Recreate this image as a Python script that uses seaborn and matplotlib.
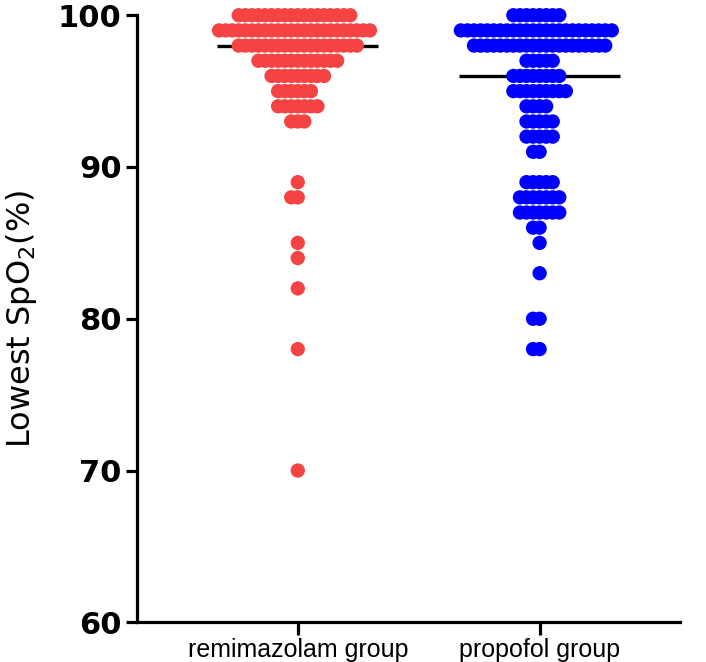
import numpy as np
import pandas as pd
import matplotlib
matplotlib.use("Agg")
import matplotlib.pyplot as plt
import seaborn as sns

# counts of patients at each lowest SpO2 value
groups = ["remimazolam group", "propofol group"]
remi_values = [100, 99, 98, 97, 96, 95, 94, 93, 89, 88, 85, 84, 82, 78, 70]
remi_counts = [18, 24, 19, 13, 9, 6, 7, 3, 1, 2, 1, 1, 1, 1, 1]
prop_values = [100, 99, 98, 97, 96, 95, 94, 93, 92, 91, 89, 88, 87, 86, 85, 83, 80, 78]
prop_counts = [8, 24, 21, 5, 8, 9, 4, 5, 5, 2, 5, 7, 7, 2, 1, 1, 2, 2]
y_ticks = [60, 70, 80, 90, 100]
colors = ["#F54242", "#0000FF"]

remi = np.repeat(remi_values, remi_counts)
prop = np.repeat(prop_values, prop_counts)
df = pd.DataFrame({
    "group": [groups[0]] * len(remi) + [groups[1]] * len(prop),
    "spo2": np.concatenate([remi, prop]),
})

sns.set_style("ticks")
plt.rcParams["font.family"] = ["Liberation Sans", "DejaVu Sans"]
plt.rcParams["mathtext.fontset"] = "dejavusans"
for k in ["text.color", "axes.labelcolor", "xtick.color", "ytick.color", "axes.edgecolor"]:
    plt.rcParams[k] = "black"

fig = plt.figure(figsize=(7.06, 6.62), dpi=100)
ax = fig.add_axes([0.194, 0.060, 0.769, 0.917])

# small size for the swarm layout, so dots in a row overlap like Prism
sns.swarmplot(data=df, x="group", y="spo2", hue="group", palette=colors,
              size=4.5, linewidth=0, legend=False, ax=ax, zorder=3)
ax.set_xlim(-0.665, 1.58)
ax.set_ylim(60, 100)
fig.canvas.draw()
for c in ax.collections:
    c.__dict__.pop("draw", None)  # keep the layout, stop re-swarming
    c.set_sizes([10.3 ** 2])
    c.set_clip_on(False)

# median lines
for i, vals in enumerate([remi, prop]):
    ax.hlines(np.median(vals), i - 0.333, i + 0.333, color="black", lw=2.4, zorder=2)

sns.despine(ax=ax)
ax.spines["left"].set_linewidth(2.3)
ax.spines["bottom"].set_linewidth(2.3)
ax.set_yticks(y_ticks)
ax.set_yticklabels([str(t) for t in y_ticks], fontsize=22, fontweight="bold",
                   family="DejaVu Sans")
ax.tick_params(axis="y", length=8, width=2.3, pad=3)
ax.tick_params(axis="x", length=9, width=2.3, labelsize=18, pad=2)
ax.set_xlabel("")
ax.set_ylabel("Lowest SpO$_2$(%)", fontsize=23, family="DejaVu Sans")
ax.yaxis.set_label_coords(-0.18, 0.5)

fig.savefig("out.png", dpi=100)
